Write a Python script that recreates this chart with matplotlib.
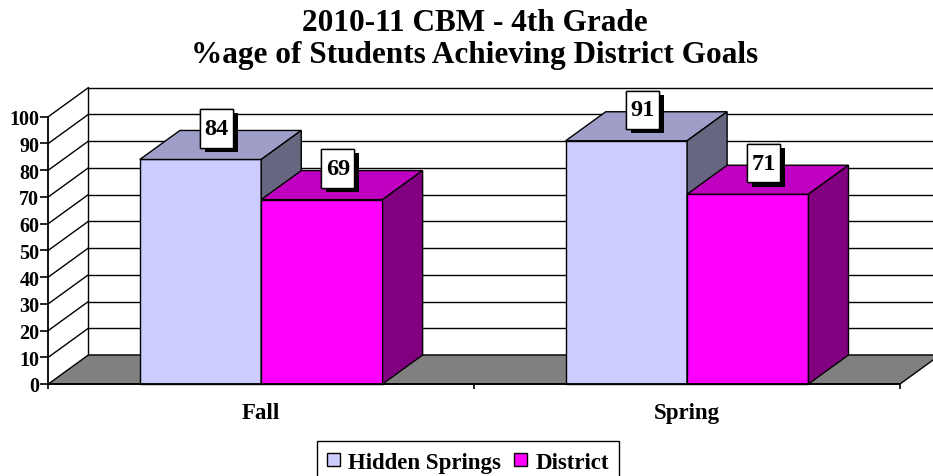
import matplotlib
matplotlib.use('Agg')
import matplotlib.pyplot as plt
from matplotlib.patches import Polygon, Rectangle, Patch
from matplotlib import patheffects

plt.rcParams['font.family'] = ['Liberation Serif', 'DejaVu Serif']
plt.rcParams['font.weight'] = 'bold'

# data
categories = ['Fall', 'Spring']
series_names = ['Hidden Springs', 'District']
hidden_springs = [84, 91]
district = [69, 71]
y_ticks = list(range(0, 101, 10))

# colours: front, top, side
colors = {
    'Hidden Springs': ('#CCCCFF', '#9E9EC8', '#666680'),
    'District': ('#FF00FF', '#C000C0', '#800080'),
}

DX = 0.094   # depth offset in category units
DY = 10.85   # depth offset in value units
GAP = 0.215
W = 0.285

fig = plt.figure(figsize=(9.33, 4.77), dpi=100)
ax = fig.add_axes([48.3 / 933, 92 / 477, 851.7 / 933, 267.3 / 477])
ax.set_xlim(0, 2)
ax.set_ylim(0, 100)
ax.patch.set_visible(False)
for s in ['top', 'right']:
    ax.spines[s].set_visible(False)
ax.spines['left'].set_linewidth(1.3)
ax.spines['bottom'].set_linewidth(1.3)
ax.spines['left'].set_zorder(6)
ax.spines['bottom'].set_zorder(6)

lw = 1.0
# back wall and left wall gridlines
for v in y_ticks:
    ax.plot([DX, 2 + DX + 0.2], [v + DY, v + DY], color='k', lw=lw, clip_on=False, zorder=1)
    if v > 0:
        ax.plot([0, DX], [v, v + DY], color='k', lw=lw, clip_on=False, zorder=1)
ax.plot([DX, DX], [DY, 100 + DY], color='k', lw=lw, clip_on=False, zorder=1)

# floor
ax.add_patch(Polygon([(0, 0), (2, 0), (2 + DX, DY), (DX, DY)], closed=True,
                     facecolor='#808080', edgecolor='k', lw=lw, clip_on=False, zorder=2))

values = {'Hidden Springs': hidden_springs, 'District': district}
z = 3
for i, cat in enumerate(categories):
    for j, name in enumerate(series_names):
        v = values[name][i]
        front, top, side = colors[name]
        x0 = i + GAP + j * W
        ax.add_patch(Rectangle((x0, 0), W, v, facecolor=front, edgecolor='k', lw=lw,
                               clip_on=False, zorder=z))
        ax.add_patch(Polygon([(x0, v), (x0 + W, v), (x0 + W + DX, v + DY), (x0 + DX, v + DY)],
                             closed=True, facecolor=top, edgecolor='k', lw=lw,
                             clip_on=False, zorder=z))
        ax.add_patch(Polygon([(x0 + W, 0), (x0 + W + DX, DY), (x0 + W + DX, v + DY), (x0 + W, v)],
                             closed=True, facecolor=side, edgecolor='k', lw=lw,
                             clip_on=False, zorder=z))
        z += 1

# data labels
for i, cat in enumerate(categories):
    for j, name in enumerate(series_names):
        v = values[name][i]
        x0 = i + GAP + j * W
        t = ax.text(x0 + W / 2 + 0.0376, v + 11.6, str(v), ha='center', va='center',
                    fontsize=17.5, fontweight='bold', zorder=20,
                    bbox=dict(boxstyle='square,pad=0.18', mutation_aspect=2.0,
                              facecolor='white', edgecolor='k', lw=1))
        t.get_bbox_patch().set_path_effects([
            patheffects.withSimplePatchShadow(offset=(3.5, -3), shadow_rgbFace='k', alpha=1),
            patheffects.Normal()])

# axes ticks
ax.set_yticks(y_ticks)
ax.set_yticklabels([str(v) for v in y_ticks])
ax.tick_params(axis='y', direction='out', length=6, width=1.2, pad=0.5, labelsize=14.5)
ax.set_xticks([0, 1, 2])
ax.set_xticklabels(['', '', ''])
ax.tick_params(axis='x', which='major', direction='out', length=3.5, width=1.2)
ax.set_xticks([0.5, 1.5], minor=True)
ax.set_xticklabels(categories, minor=True)
ax.tick_params(axis='x', which='minor', length=0, pad=13, labelsize=16.5)

# title
fig.text(475 / 933, 1 - 31 / 477, '2010-11 CBM - 4th Grade', ha='center', va='baseline',
         fontsize=22.5, fontweight='bold')
fig.text(475 / 933, 1 - 63 / 477, '%age of Students Achieving District Goals', ha='center',
         va='baseline', fontsize=22.5, fontweight='bold')

# legend
handles = [Patch(facecolor=colors[n][0], edgecolor='k', lw=1) for n in series_names]
leg = fig.legend(handles, series_names, loc='upper center',
                 bbox_to_anchor=(467.9 / 933, 1 - 442.3 / 477), ncol=2, frameon=True,
                 fancybox=False, edgecolor='k', framealpha=1, borderaxespad=0,
                 prop={'size': 16.5, 'weight': 'bold'}, handlelength=0.55, handleheight=0.55,
                 handletextpad=0.35, columnspacing=0.6, borderpad=0.45)
leg.get_frame().set_linewidth(1)

fig.savefig('out.png', dpi=100)
